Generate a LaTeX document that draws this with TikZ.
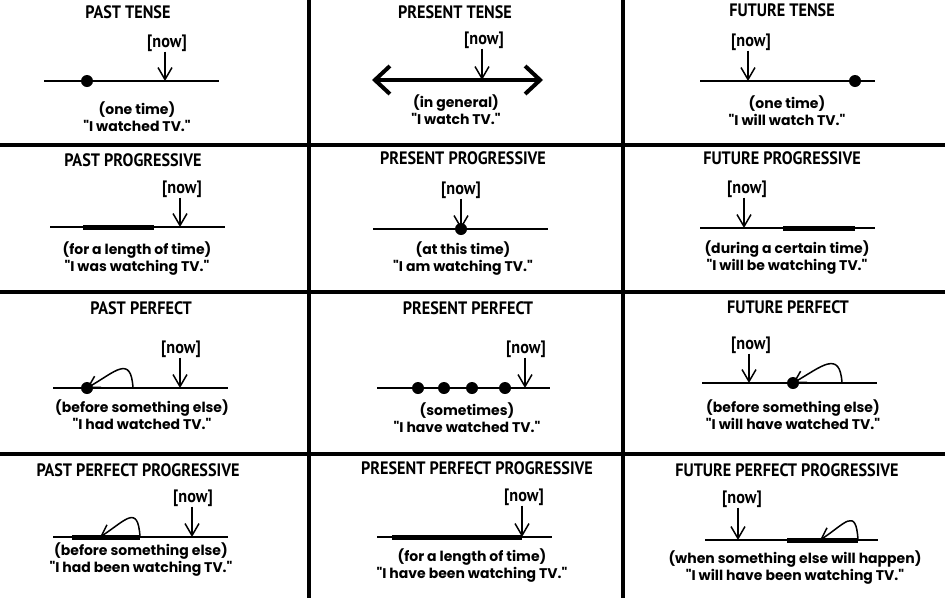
\documentclass[tikz,border=0pt]{standalone}
\usepackage{fontspec}
\setmainfont{Poppins}[Ligatures=TeXOff]
\newfontfamily\headfont[FakeStretch=0.9]{PT Sans}
\usepackage{tikz}
\usetikzlibrary{arrows.meta, calc}

\tikzset{
  tensehead/.style={font=\headfont\bfseries\fontsize{18}{20}\selectfont, inner sep=0pt},
  nowlbl/.style={font=\headfont\bfseries\fontsize{18}{20}\selectfont, inner sep=0pt},
  usage/.style={font=\bfseries\fontsize{14}{17}\selectfont, align=center, inner sep=0pt},
  tline/.style={line width=2pt},
  heavy/.style={line width=5pt},
  nowarrow/.style={line width=1.5pt, -{Straight Barb[length=12pt,width=14pt]}},
  backarrow/.style={line width=1.5pt, -{Straight Barb[length=11pt,width=13pt]}},
  evdot/.style={circle, fill, inner sep=0pt, minimum size=12pt},
  gridline/.style={line width=3.5pt}
}

\begin{document}
\begin{tikzpicture}[x=1pt, y=-1pt]
  \useasboundingbox (0,0) rectangle (945,598);

  % Grid
  \draw[gridline] (309,0) -- (309,598);
  \draw[gridline] (623,0) -- (623,598);
  \draw[gridline] (0,145) -- (945,145);
  \draw[gridline] (0,292) -- (945,292);
  \draw[gridline] (0,454) -- (945,454);

  % Past tense
  \node[tensehead] (h11) at (128,12) {PAST TENSE};
  \node[nowlbl] (n11) at (167,43) {[now]};
  \draw[tline] (44,81) -- (219,81);
  \coordinate (t11) at (165,81);
  \node[evdot] (d11) at (87,81) {};
  \draw[nowarrow] (n11.south -| t11) -- (t11);
  \node[usage] (u11) at (137,117) {(one time)\\"I watched TV."};

  % Present tense
  \node[tensehead] (h12) at (455,12) {PRESENT TENSE};
  \node[nowlbl] (n12) at (484,40) {[now]};
  \draw[line width=4pt, {Straight Barb[length=15pt,width=28pt]}-{Straight Barb[length=15pt,width=28pt]}] (372,80) -- (543,80);
  \coordinate (t12) at (482,80);
  \draw[nowarrow] (n12.south -| t12) -- (t12);
  \node[usage] (u12) at (456,110) {(in general)\\"I watch TV."};

  % Future tense
  \node[tensehead] (h13) at (782,10) {FUTURE TENSE};
  \node[nowlbl] (n13) at (751,42) {[now]};
  \draw[tline] (700,81) -- (875,81);
  \coordinate (t13) at (748,81);
  \node[evdot] (d13) at (855,81) {};
  \draw[nowarrow] (n13.south -| t13) -- (t13);
  \node[usage] (u13) at (787,111) {(one time)\\"I will watch TV."};

  % Past progressive
  \node[tensehead] (h21) at (133,160) {PAST PROGRESSIVE};
  \node[nowlbl] (n21) at (182,189) {[now]};
  \draw[tline] (50,227) -- (225,227);
  \draw[heavy] (83,227) -- (154,227);
  \coordinate (t21) at (180,227);
  \draw[nowarrow] (n21.south -| t21) -- (t21);
  \node[usage] (u21) at (137,259) {(for a length of time)\\"I was watching TV."};

  % Present progressive
  \node[tensehead] (h22) at (463,158) {PRESENT PROGRESSIVE};
  \node[nowlbl] (n22) at (461,190) {[now]};
  \draw[tline] (373,229) -- (548,229);
  \node[evdot] (d22) at (461,229) {};
  \draw[nowarrow] (n22.south -| d22) -- (d22.center);
  \node[usage] (u22) at (463,259) {(at this time)\\"I am watching TV."};

  % Future progressive
  \node[tensehead] (h23) at (782,158) {FUTURE PROGRESSIVE};
  \node[nowlbl] (n23) at (747,189) {[now]};
  \draw[tline] (700,228) -- (875,228);
  \draw[heavy] (783,228) -- (855,228);
  \coordinate (t23) at (744,228);
  \draw[nowarrow] (n23.south -| t23) -- (t23);
  \node[usage] (u23) at (787,258) {(during a certain time)\\"I will be watching TV."};

  % Past perfect
  \node[tensehead] (h31) at (141,308) {PAST PERFECT};
  \node[nowlbl] (n31) at (181,349) {[now]};
  \draw[tline] (53,388) -- (228,388);
  \node[evdot] (d31) at (87,388) {};
  \coordinate (t31) at (180,388);
  \coordinate (s31) at (133,388);
  \draw[nowarrow] (n31.south -| t31) -- (t31);
  \draw[backarrow] (s31) .. controls +(-2,-34) and +(28,-16) .. (d31.center);
  \node[usage] (u31) at (142,415) {(before something else)\\"I had watched TV."};

  % Present perfect
  \node[tensehead] (h32) at (468,308) {PRESENT PERFECT};
  \node[nowlbl] (n32) at (526,349) {[now]};
  \draw[tline] (377,388) -- (550,388);
  \foreach \i/\x in {1/418, 2/444, 3/472, 4/505}
    \node[evdot] (d32\i) at (\x,388) {};
  \coordinate (t32) at (525,388);
  \draw[nowarrow] (n32.south -| t32) -- (t32);
  \node[usage] (u32) at (467,418) {(sometimes)\\"I have watched TV."};

  % Future perfect
  \node[tensehead] (h33) at (788,307) {FUTURE PERFECT};
  \node[nowlbl] (n33) at (751,345) {[now]};
  \draw[tline] (702,383) -- (877,383);
  \node[evdot] (d33) at (793,383) {};
  \coordinate (t33) at (749,383);
  \coordinate (s33) at (842,383);
  \draw[nowarrow] (n33.south -| t33) -- (t33);
  \draw[backarrow] (s33) .. controls +(-2,-34) and +(28,-16) .. (d33.center);
  \node[usage] (u33) at (793,415) {(before something else)\\"I will have watched TV."};

  % Past perfect progressive
  \node[tensehead] (h41) at (138,470) {PAST PERFECT PROGRESSIVE};
  \node[nowlbl] (n41) at (193,498) {[now]};
  \draw[tline] (53,537) -- (228,537);
  \draw[heavy] (72,537) -- (140,537);
  \coordinate (t41) at (192,537);
  \coordinate (s41) at (140,537);
  \coordinate (e41) at (100,537);
  \draw[nowarrow] (n41.south -| t41) -- (t41);
  \draw[backarrow] (s41) .. controls +(-2,-34) and +(25,-16) .. (e41);
  \node[usage] (u41) at (141,560) {(before something else)\\"I had been watching TV."};

  % Present perfect progressive
  \node[tensehead] (h42) at (477,468) {PRESENT PERFECT PROGRESSIVE};
  \node[nowlbl] (n42) at (524,497) {[now]};
  \draw[tline] (377,537) -- (552,537);
  \draw[heavy] (392,537) -- (522,537);
  \coordinate (t42) at (522,537);
  \draw[nowarrow] (n42.south -| t42) -- (t42);
  \node[usage] (u42) at (472,566) {(for a length of time)\\"I have been watching TV."};

  % Future perfect progressive
  \node[tensehead] (h43) at (787,470) {FUTURE PERFECT PROGRESSIVE};
  \node[nowlbl] (n43) at (742,499) {[now]};
  \draw[tline] (705,540) -- (878,540);
  \draw[heavy] (787,540) -- (858,540);
  \coordinate (t43) at (738,540);
  \coordinate (s43) at (858,540);
  \coordinate (e43) at (820,540);
  \draw[nowarrow] (n43.south -| t43) -- (t43);
  \draw[backarrow] (s43) .. controls +(-2,-34) and +(25,-16) .. (e43);
  \node[usage] (u43) at (795,568) {(when something else will happen)\\"I will have been watching TV."};
\end{tikzpicture}
\end{document}
